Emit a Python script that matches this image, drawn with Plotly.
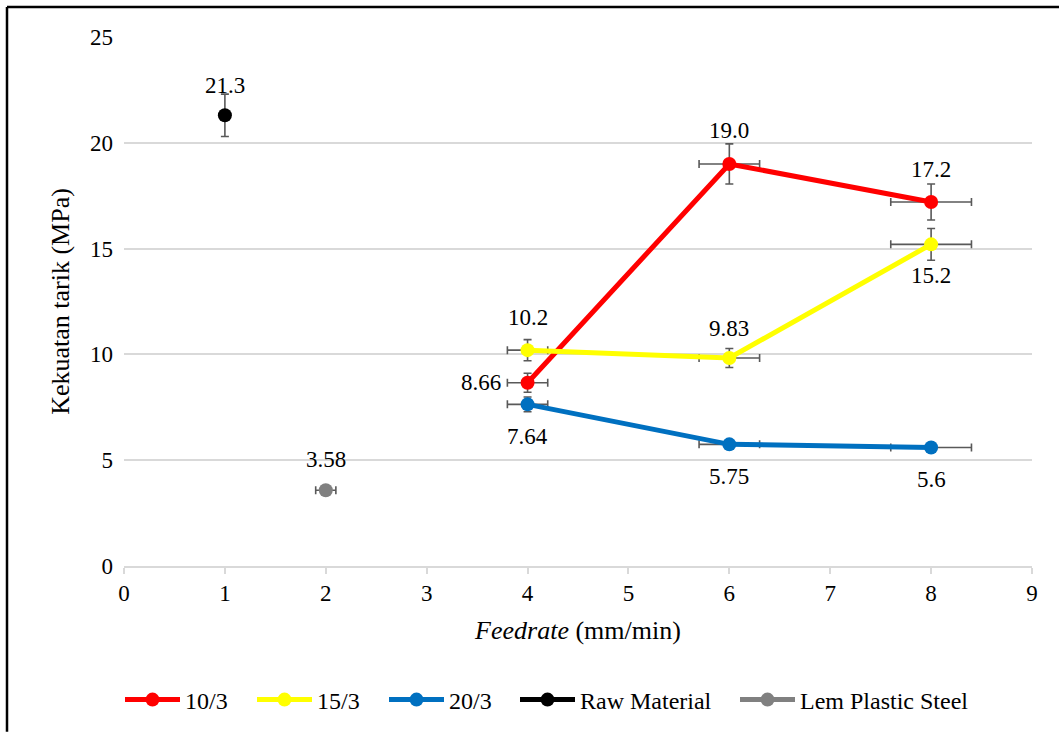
import plotly.graph_objects as go

# Feedrate (mm/min) and tensile strength (MPa) per series
feed = [4, 6, 8]
s10_3 = [8.66, 19.0, 17.2]
s15_3 = [10.2, 9.83, 15.2]
s20_3 = [7.64, 5.75, 5.6]
s10_3_err_y = [0.45, 0.95, 0.85]
s15_3_err_y = [0.5, 0.45, 0.75]
s20_3_err_y = [0.35, 0.0, 0.0]
err_x = [0.2, 0.3, 0.4]

raw_x = [1]
raw_y = [21.3]
raw_err_y = [1.0]

lem_x = [2]
lem_y = [3.58]
lem_err_x = [0.1]

labels_10_3 = ["8.66", "19.0", "17.2"]
labels_15_3 = ["10.2", "9.83", "15.2"]
labels_20_3 = ["7.64", "5.75", "5.6"]

FONT = "Times New Roman, Liberation Serif, DejaVu Serif, serif"
FS = 23
ERR_COLOR = "#595959"

L, R, T, B = 124, 27, 37, 166
W, H = 1059, 733
pw, ph = W - L - R, H - T - B

# left edge (px) of each legend entry
legend_left_px = [120, 252, 384, 515, 735]

fig = go.Figure()


def add_series(name, x, y, color, ex, ey, legend_id):
    fig.add_trace(go.Scatter(
        x=x, y=y, name=name, mode="lines+markers",
        line=dict(color=color, width=5),
        marker=dict(color=color, size=14),
        error_x=dict(type="data", array=ex, color=ERR_COLOR, thickness=1.6, width=4, visible=ex is not None),
        error_y=dict(type="data", array=ey, color=ERR_COLOR, thickness=1.6, width=4, visible=ey is not None),
        legend=legend_id,
    ))


add_series("10/3", feed, s10_3, "#FF0000", err_x, s10_3_err_y, "legend")
add_series("15/3", feed, s15_3, "#FFFF00", err_x, s15_3_err_y, "legend2")
add_series("20/3", feed, s20_3, "#0070C0", err_x, s20_3_err_y, "legend3")
add_series("Raw Material", raw_x, raw_y, "#000000", None, raw_err_y, "legend4")
add_series("Lem Plastic Steel", lem_x, lem_y, "#808080", lem_err_x, None, "legend5")

# value labels: (x, y, text, xshift, yshift)
ann = []
for x, y, t, dy in zip(feed, s10_3, labels_10_3, [0, 33, 33]):
    ann.append((x, y, t, -47 if dy == 0 else 0, dy))
for x, y, t, dy in zip(feed, s15_3, labels_15_3, [33, 30, -31]):
    ann.append((x, y, t, 0, dy))
for x, y, t in zip(feed, s20_3, labels_20_3):
    ann.append((x, y, t, 0, -32))
ann.append((raw_x[0], raw_y[0], "21.3", 0, 30))
ann.append((lem_x[0], lem_y[0], "3.58", 0, 31))

for x, y, t, dx, dy in ann:
    fig.add_annotation(x=x, y=y, text=t, showarrow=False, xshift=dx, yshift=dy,
                       font=dict(family=FONT, size=FS, color="#000000"))

# outer frame lines (top and left)
fx0 = (7 - L) / pw
fy_top = 1 + (T - 7) / ph
fig.add_shape(type="line", xref="paper", yref="paper", x0=fx0, x1=(W - L) / pw,
              y0=fy_top, y1=fy_top, line=dict(color="#000000", width=2.5))
fig.add_shape(type="line", xref="paper", yref="paper", x0=fx0, x1=fx0,
              y0=fy_top, y1=-(H - T - ph) / ph, line=dict(color="#000000", width=2.5))

legend_common = dict(orientation="h", xanchor="left", y=(567 - 700) / ph, yanchor="middle",
                     font=dict(family=FONT, size=24), itemwidth=55, bgcolor="rgba(0,0,0,0)",
                     borderwidth=0)
legends = {}
for i, px in enumerate(legend_left_px):
    key = "legend" if i == 0 else f"legend{i + 1}"
    legends[key] = dict(legend_common, x=(px - L) / pw)

fig.update_layout(
    width=W, height=H,
    margin=dict(l=L, r=R, t=T, b=B),
    paper_bgcolor="white", plot_bgcolor="white",
    font=dict(family=FONT, size=FS, color="#000000"),
    showlegend=True,
    **legends,
    xaxis=dict(range=[0, 9], dtick=1, tick0=0, showgrid=False, zeroline=False,
               showline=True, linecolor="#D9D9D9", linewidth=1.5,
               ticks="outside", tickcolor="#D9D9D9", ticklen=6, tickwidth=1.5,
               title=dict(text="<i>Feedrate</i> (mm/min)", standoff=15, font=dict(family=FONT, size=26)),
               tickfont=dict(family=FONT, size=FS)),
    yaxis=dict(range=[0, 25], dtick=5, tick0=0, showgrid=True, gridcolor="#D9D9D9", gridwidth=1.5,
               zeroline=False, showline=False, ticks="", ticklabelstandoff=10,
               title=dict(text="Kekuatan tarik (MPa)", standoff=12, font=dict(family=FONT, size=26)),
               tickfont=dict(family=FONT, size=FS)),
)

fig.write_html("out.html")
